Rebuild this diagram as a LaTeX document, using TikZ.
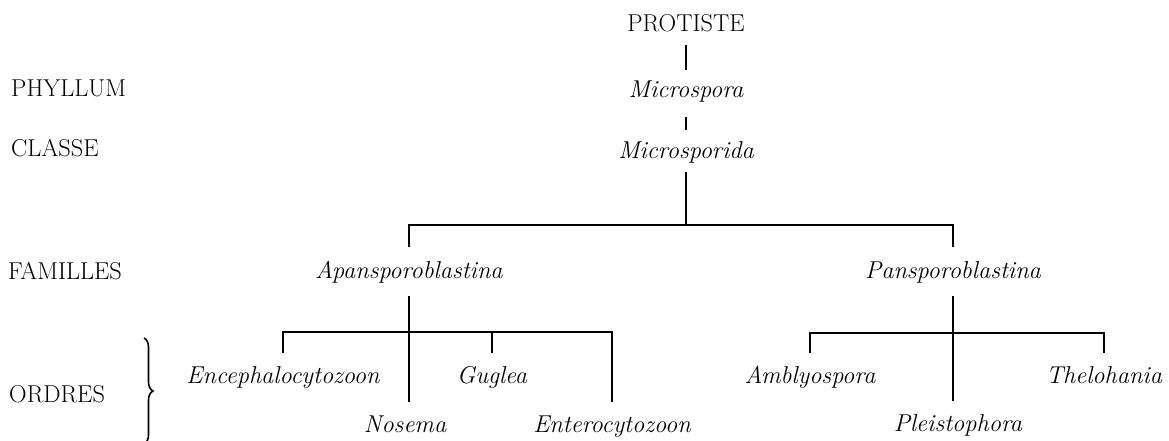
\documentclass[tikz,border=0pt]{standalone}
\usetikzlibrary{calc,decorations.pathreplacing}
\newcommand{\diagfont}{\fontsize{24.4}{29}\selectfont}
\begin{document}
\begin{tikzpicture}[x=1pt,y=-1pt,
  lab/.style={font=\diagfont, anchor=base west, inner sep=0pt},
  top/.style={font=\diagfont, anchor=base, inner sep=0pt, text height=16pt, text depth=5pt},
  taxon/.style={font=\diagfont\itshape, anchor=base, inner sep=0pt, text height=16pt, text depth=5pt},
  link/.style={line width=1.2pt, black}]
\useasboundingbox (0,0) rectangle (1169,441);

% rank labels
\node[lab] (phyllum)  at (11,97)  {PHYLLUM};
\node[lab] (classe)   at (11,157) {CLASSE};
\node[lab] (familles) at (8,279)  {FAMILLES};
\node[lab] (ordres)   at (9,402)  {ORDRES};
\draw[line width=1.6pt, decorate, decoration={brace, amplitude=9pt}] (144,338) -- (144,444);

% taxa
\node[top]   (protiste)     at (686,32)  {PROTISTE};
\node[taxon] (microspora)   at (686,98)  {Microspora};
\node[taxon] (microsporida) at (686,158) {Microsporida};
\node[taxon] (apan)         at (409,278) {Apansporoblastina};
\node[taxon] (pans)         at (953,278) {Pansporoblastina};
\node[taxon] (enceph)       at (283,383) {Encephalocytozoon};
\node[taxon] (guglea)       at (492,383) {Guglea};
\node[taxon] (nosema)       at (405,432) {Nosema};
\node[taxon] (entero)       at (612,432) {Enterocytozoon};
\node[taxon] (ambly)        at (810,383) {Amblyospora};
\node[taxon] (thelo)        at (1104,383) {Thelohania};
\node[taxon] (pleisto)      at (958,431) {Pleistophora};

% junctions
\coordinate (j1) at (686,225);
\coordinate (j2) at (409,332);
\coordinate (j3) at (953,333);

% connectors
\draw[link] ($(protiste.south)+(0,-8pt)$) -- ($(microspora.north)+(0,12pt)$);
\draw[link] ($(microspora.south)+(0,-14pt)$) -- ($(microsporida.north)+(0,12pt)$);
\draw[link] ($(microsporida.south)+(0,-9pt)$) -- (j1);
\draw[link] ($(apan.north)+(0,15pt)$) |- (j1) -| ($(pans.north)+(0,15pt)$);

\draw[link] ($(apan.south)+(0,-13pt)$) -- ($(apan.south |- nosema.north)+(0,14pt)$);
\draw[link] ($(enceph.north)+(0,14pt)$) |- (j2) -| ($(entero.north)+(0,14pt)$);
\draw[link] ($(guglea.north)+(0,14pt)$) -- (guglea.north |- j2);

\draw[link] ($(pans.south)+(0,-13pt)$) -- ($(pans.south |- pleisto.north)+(0,14pt)$);
\draw[link] ($(ambly.north)+(0,14pt)$) |- (j3) -| ($(thelo.north)+(0,14pt)$);
\end{tikzpicture}
\end{document}
